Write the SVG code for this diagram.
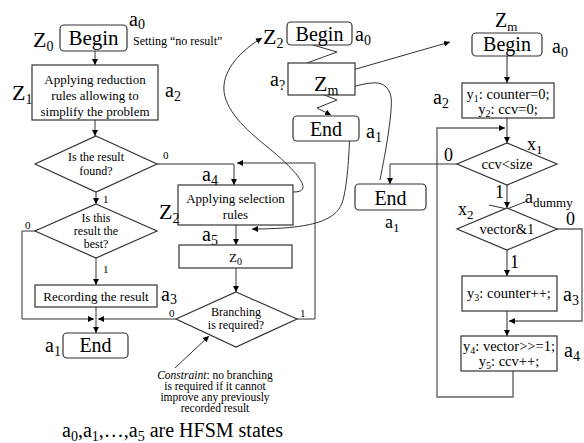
<svg xmlns="http://www.w3.org/2000/svg" width="584" height="443" viewBox="0 0 584 443">
<defs>
<marker id="ah" markerWidth="6" markerHeight="6" refX="6" refY="3" orient="auto" markerUnits="userSpaceOnUse"><path d="M0,0 L6,3 L0,6 z" fill="#000"/></marker>
</defs>
<style>
text{font-family:"Liberation Serif","Times New Roman",serif;fill:#000}
.box{fill:#fff;stroke:#333;stroke-width:1.2}
.ln{fill:none;stroke:#333;stroke-width:1}
.lg{fill:none;stroke:#666;stroke-width:1.4}
.m{text-anchor:middle}
.t13{font-size:13px}
.t12{font-size:12px}
.t15{font-size:14.5px}
.big{font-size:21px}
.lab{font-size:20px}
.z{font-size:22px}
.s{font-size:11px}
.n{font-size:18px}
</style>
<rect width="584" height="443" fill="#fff"/>

<g id="connectors">
<line class="ln" x1="95" y1="51" x2="95" y2="65" marker-end="url(#ah)"/>
<line class="ln" x1="95" y1="120" x2="95" y2="136" marker-end="url(#ah)"/>
<line class="ln" x1="96" y1="192" x2="96" y2="204" marker-end="url(#ah)"/>
<line class="ln" x1="96" y1="258" x2="96" y2="285" marker-end="url(#ah)"/>
<line class="ln" x1="96" y1="307" x2="96" y2="333" marker-end="url(#ah)"/>
<path class="ln" d="M35,231 H22 V319 H94" marker-end="url(#ah)"/>
<path class="ln" d="M176,319 H98" marker-end="url(#ah)"/>
<path class="ln" d="M157,164 H234 V185" marker-end="url(#ah)"/>
<path class="ln" d="M297,319 H315 V163 H237" marker-end="url(#ah)"/>
<line class="ln" x1="236" y1="225" x2="236" y2="245" marker-end="url(#ah)"/>
<line class="ln" x1="236" y1="268" x2="236" y2="292" marker-end="url(#ah)"/>
<line class="ln" x1="175" y1="368" x2="209" y2="336" marker-end="url(#ah)"/>
<polyline class="ln" points="313,45 337,52 307,63"/>
<polyline class="ln" points="322,94 337,100 317,108 331,115" marker-end="url(#ah)"/>
<line class="ln" x1="328" y1="77" x2="450" y2="42" marker-end="url(#ah)"/>
<path class="ln" d="M380,180 C386,150 393,110 391,97 C389,85 380,82 372,83 C360,84 348,88 341,93" marker-end="url(#ah)"/>
<path class="ln" d="M284,190 C292,193 303,193 303,187 C303,180 290,165 265,145 C240,125 222,105 224,85 C226,65 245,48 262,38" marker-end="url(#ah)"/>
<path class="ln" d="M350,128 C349,160 347,185 343,200 C338,218 320,229 252,229" marker-end="url(#ah)"/>
<line class="lg" x1="507" y1="56" x2="507" y2="83" marker-end="url(#ah)"/>
<line class="lg" x1="507" y1="118" x2="507" y2="143" marker-end="url(#ah)"/>
<path class="lg" d="M513,371 V397 H437 V128 H505" marker-end="url(#ah)"/>
<path class="ln" d="M457,164 H390 V184" marker-end="url(#ah)"/>
<line class="lg" x1="507" y1="185" x2="507" y2="208" marker-end="url(#ah)"/>
<polyline class="ln" points="489,205 507,209 527,201"/>
<line class="lg" x1="507" y1="250" x2="507" y2="276" marker-end="url(#ah)"/>
<path class="lg" d="M557,229 H582 V321 H509" marker-end="url(#ah)"/>
<line class="lg" x1="507" y1="311" x2="507" y2="336" marker-end="url(#ah)"/>
</g>

<g id="l-begin">
<rect class="box" x="60" y="25" width="67" height="26" rx="4"/>
<text class="big m" x="93.5" y="45">Begin</text>
<text class="z" x="33" y="47">Z<tspan font-size="14" dy="4">0</tspan></text>
<text class="lab" x="129" y="26">a<tspan font-size="14" dy="3">0</tspan></text>
<text font-size="12" x="133" y="45">Setting “no result”</text>
</g>

<g id="l-reduce">
<rect class="box" x="32" y="65" width="126" height="55"/>
<text class="t13 m" x="95" y="84">Applying reduction</text>
<text class="t13 m" x="95" y="100">rules allowing to</text>
<text class="t13 m" x="95" y="116">simplify the problem</text>
<text class="z" x="12" y="100">Z<tspan font-size="14" dy="4">1</tspan></text>
<text class="lab" x="165" y="97">a<tspan font-size="14" dy="4">2</tspan></text>
</g>

<g id="l-found">
<polygon class="box" points="96,136 157,164 96,192 35,164"/>
<text class="t12 m" x="96" y="161">Is the result</text>
<text class="t12 m" x="96" y="175">found?</text>
<text class="s" x="163" y="159">0</text>
<text class="s" x="103" y="203">1</text>
</g>

<g id="l-best">
<polygon class="box" points="96,204 157,231 96,258 35,231"/>
<text class="t12 m" x="96" y="222">Is this</text>
<text class="t12 m" x="96" y="235">result the</text>
<text class="t12 m" x="96" y="248">best?</text>
<text class="s" x="25" y="229">0</text>
<text class="s" x="103" y="273">1</text>
</g>

<g id="l-record">
<rect class="box" x="35" y="285" width="122" height="22"/>
<text class="t13 m" x="96" y="300.5">Recording the result</text>
<text class="lab" x="161" y="301">a<tspan font-size="14" dy="3">3</tspan></text>
</g>

<g id="l-end">
<rect class="box" x="63" y="333" width="65" height="25" rx="4"/>
<text class="m" font-size="20" x="95.5" y="352">End</text>
<text class="lab" x="45" y="352">a<tspan font-size="14" dy="4">1</tspan></text>
</g>

<g id="m-select">
<rect class="box" x="178" y="185" width="115" height="40"/>
<text class="t13 m" x="235.5" y="203">Applying selection</text>
<text class="t13 m" x="235.5" y="219">rules</text>
<text class="z" x="159" y="219">Z<tspan font-size="14" dy="4">2</tspan></text>
<text class="lab" x="202" y="181">a<tspan font-size="14" dy="4">4</tspan></text>
<text class="lab" x="202" y="241">a<tspan font-size="14" dy="4">5</tspan></text>
</g>

<g id="m-z0">
<rect class="box" x="179" y="245" width="113" height="23"/>
<text class="t13 m" x="235.5" y="262">Z<tspan font-size="10" dy="3">0</tspan></text>
</g>

<g id="m-branch">
<polygon class="box" points="236,292 297,319 236,347 176,319"/>
<text class="t12 m" x="236" y="316">Branching</text>
<text class="t12 m" x="236" y="329">is required?</text>
<text class="s" x="169" y="317">0</text>
<text class="s" x="300" y="317">1</text>
</g>

<g id="m-constraint">
<text font-size="11.5" class="m" x="215" y="379"><tspan font-style="italic">Constraint</tspan>: no branching</text>
<text font-size="11.5" class="m" x="215" y="390">is required if it cannot</text>
<text font-size="11.5" class="m" x="215" y="401">improve any previously</text>
<text font-size="11.5" class="m" x="215" y="412">recorded result</text>
</g>

<g id="z2-begin">
<rect class="box" x="287" y="22" width="65" height="23" rx="4"/>
<text class="m" font-size="20" x="319.5" y="41">Begin</text>
<text class="z" x="263" y="44">Z<tspan font-size="14" dy="4">2</tspan></text>
<text class="lab" x="355" y="41">a<tspan font-size="14" dy="4">0</tspan></text>
</g>

<g id="z2-zm">
<rect class="box" x="288" y="63" width="67" height="32"/>
<text class="z" x="314" y="91">Z<tspan font-size="14" dy="4">m</tspan></text>
<text class="lab" x="270" y="86">a<tspan font-size="14" dy="4">?</tspan></text>
</g>

<g id="z2-end">
<rect class="box" x="293" y="116" width="66" height="25" rx="4"/>
<text class="m" font-size="20" x="326" y="136">End</text>
<text class="lab" x="366" y="138">a<tspan font-size="14" dy="4">1</tspan></text>
</g>

<g id="r-begin">
<rect class="box" x="472" y="33" width="70" height="23" rx="4"/>
<text class="m" font-size="20" x="507" y="51">Begin</text>
<text class="lab" x="495" y="27">Z<tspan font-size="13" dy="4">m</tspan></text>
<text class="lab" x="552" y="53">a<tspan font-size="14" dy="4">0</tspan></text>
</g>

<g id="r-init">
<rect class="box" x="462" y="83" width="92" height="35"/>
<text class="t15 m" x="508" y="99">y<tspan font-size="10" dy="3">1</tspan><tspan dy="-3">: counter=0;</tspan></text>
<text class="t15 m" x="508" y="114">y<tspan font-size="10" dy="3">2</tspan><tspan dy="-3">: ccv=0;</tspan></text>
<text class="lab" x="433" y="104">a<tspan font-size="14" dy="4">2</tspan></text>
</g>

<g id="r-ccv">
<polygon class="box" points="507,143 557,164 507,185 457,164"/>
<text class="t15 m" x="507" y="169">ccv&lt;size</text>
<text class="n" x="527" y="150">x<tspan font-size="13" dy="4">1</tspan></text>
<text class="n" x="444" y="161">0</text>
<text class="n" x="495" y="198">1</text>
</g>

<g id="r-end">
<rect class="box" x="355" y="184" width="71" height="26" rx="4"/>
<text class="m" font-size="20" x="390.5" y="205">End</text>
<text class="n" x="385" y="228">a<tspan font-size="13" dy="4">1</tspan></text>
</g>

<g id="r-vector">
<polygon class="box" points="507,208 557,229 507,250 457,229"/>
<text class="t15 m" x="507" y="234">vector&amp;1</text>
<text class="n" x="458" y="215">x<tspan font-size="13" dy="4">2</tspan></text>
<text class="n" x="525" y="203">a<tspan font-size="13" dy="4">dummy</tspan></text>
<text class="n" x="566" y="225">0</text>
<text class="n" x="510" y="268">1</text>
</g>

<g id="r-count">
<rect class="box" x="462" y="276" width="95" height="35"/>
<text class="t15 m" x="509" y="298">y<tspan font-size="10" dy="3">3</tspan><tspan dy="-3">: counter++;</tspan></text>
<text class="lab" x="563" y="301">a<tspan font-size="14" dy="4">3</tspan></text>
</g>

<g id="r-shift">
<rect class="box" x="461" y="336" width="96" height="35"/>
<text class="t15 m" x="509" y="351">y<tspan font-size="10" dy="3">4</tspan><tspan dy="-3">: vector&gt;&gt;=1;</tspan></text>
<text class="t15 m" x="509" y="366">y<tspan font-size="10" dy="3">5</tspan><tspan dy="-3">: ccv++;</tspan></text>
<text class="lab" x="564" y="357">a<tspan font-size="14" dy="4">4</tspan></text>
</g>

<text font-size="20" x="62" y="437">a<tspan font-size="14" dy="4">0</tspan><tspan dy="-4">,a</tspan><tspan font-size="14" dy="4">1</tspan><tspan dy="-4">,…,a</tspan><tspan font-size="14" dy="4">5</tspan><tspan dy="-4"> are HFSM states</tspan></text>
</svg>
